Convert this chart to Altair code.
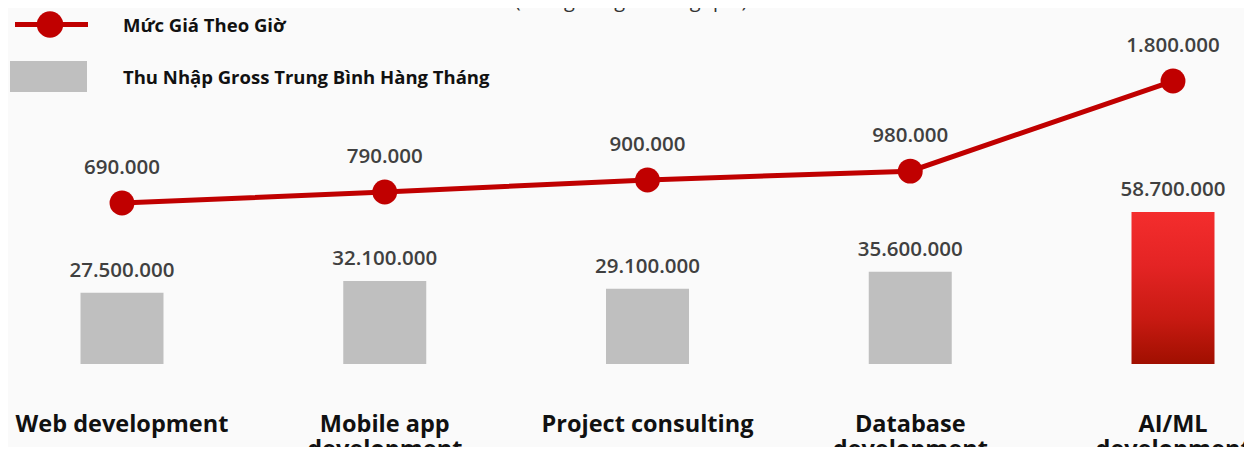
import altair as alt
import pandas as pd

# ---- data ----
categories = ["Web development", "Mobile app\ndevelopment", "Project consulting",
              "Database\ndevelopment", "AI/ML\ndevelopment"]
gross_income = [27500000, 32100000, 29100000, 35600000, 58700000]
hourly_rate = [690000, 790000, 900000, 980000, 1800000]
highlight = [False, False, False, False, True]
legend_labels = ["Mức Giá Theo Giờ", "Thu Nhập Gross Trung Bình Hàng Tháng"]
subtitle = "(Trong vòng 6 tháng qua)"


def fmt(v):
    return f"{v:,}".replace(",", ".")


df = pd.DataFrame({
    "cat": categories,
    "gross": gross_income,
    "rate": hourly_rate,
    "hl": highlight,
    "gross_lbl": [fmt(v) for v in gross_income],
    "rate_lbl": [fmt(v) for v in hourly_rate],
})

FONT = "Open Sans"
RED = "#C00000"
GRAY = "#BFBFBF"

x = alt.X("cat:N", sort=categories, scale=alt.Scale(type="point", padding=0), axis=None)
y_bar = alt.Y("gross:Q", scale=alt.Scale(domain=[0, 137480000]), axis=None)
y_line = alt.Y("rate:Q", scale=alt.Scale(domain=[-774700, 2464300]), axis=None)

base = alt.Chart(df)

gray_bars = base.transform_filter("!datum.hl").mark_bar(size=83, color=GRAY).encode(x=x, y=y_bar)
red_bar = base.transform_filter("datum.hl").mark_bar(
    size=83,
    color=alt.Gradient(
        gradient="linear",
        stops=[
            alt.GradientStop(color="#F42D2D", offset=0),
            alt.GradientStop(color="#E42424", offset=0.35),
            alt.GradientStop(color="#C81A12", offset=0.7),
            alt.GradientStop(color="#A00F00", offset=1),
        ],
        x1=0, x2=0, y1=0, y2=1,
    ),
).encode(x=x, y=y_bar)
bar_text = base.mark_text(font=FONT, fontSize=20.5, fontWeight=600, color="#404040",
                          baseline="alphabetic", dy=-16).encode(x=x, y=y_bar, text="gross_lbl:N")
bars = alt.layer(gray_bars, red_bar, bar_text)

line = base.mark_line(color=RED, strokeWidth=5).encode(x=x, y=y_line)
pts = base.mark_point(filled=True, size=620, color=RED, opacity=1).encode(x=x, y=y_line)
rate_text = base.mark_text(font=FONT, fontSize=20.5, fontWeight=600, color="#404040",
                           baseline="alphabetic", dy=-29).encode(x=x, y=y_line, text="rate_lbl:N")
lines = alt.layer(line, pts, rate_text)

xlabels = base.mark_text(font=FONT, fontSize=23.5, fontWeight="bold", color="#111111",
                         baseline="alphabetic", lineBreak="\n", lineHeight=25).encode(
    x=x, y=alt.value(424), text="cat:N")

one = alt.Chart(pd.DataFrame({"k": [0]}))
leg_line = one.mark_rule(color=RED, strokeWidth=5).encode(
    x=alt.value(-107), x2=alt.value(-34), y=alt.value(16.5))
leg_pt = one.mark_point(filled=True, size=700, color=RED, opacity=1).encode(
    x=alt.value(-72), y=alt.value(16.5))
leg_rect = one.mark_rect(color=GRAY).encode(
    x=alt.value(-112), x2=alt.value(-35), y=alt.value(53), y2=alt.value(84))
leg_t1 = one.mark_text(font=FONT, fontSize=18.5, fontWeight="bold", color="#111111",
                       align="left", baseline="alphabetic").encode(
    x=alt.value(1), y=alt.value(24), text=alt.value(legend_labels[0]))
leg_t2 = one.mark_text(font=FONT, fontSize=18.5, fontWeight="bold", color="#111111",
                       align="left", baseline="alphabetic").encode(
    x=alt.value(1), y=alt.value(76), text=alt.value(legend_labels[1]))
sub = one.mark_text(font=FONT, fontSize=20, color="#333333", baseline="alphabetic").encode(
    x=alt.value(509), y=alt.value(-1), text=alt.value(subtitle))

chart = alt.layer(
    bars, lines, xlabels, leg_line, leg_pt, leg_rect, leg_t1, leg_t2, sub
).resolve_scale(y="independent").properties(
    width=1051, height=356,
    autosize=alt.AutoSizeParams(type="none"),
    padding={"left": 114, "top": 0, "right": 71, "bottom": 83},
    background="#FAFAFA",
).configure_view(stroke=None)

chart.save("out.html", embed_options={"renderer": "svg", "actions": False})
